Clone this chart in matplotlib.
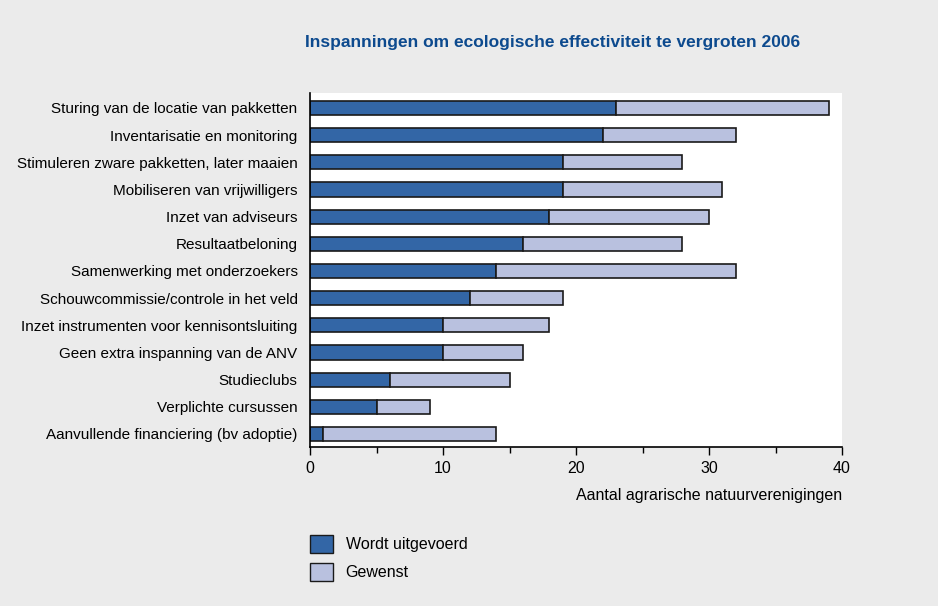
import numpy as np
import matplotlib.pyplot as plt
from matplotlib.patches import Patch

plt.rcParams['font.family'] = ['Liberation Sans Narrow', 'Liberation Sans', 'DejaVu Sans']

categories = [
    'Sturing van de locatie van pakketten',
    'Inventarisatie en monitoring',
    'Stimuleren zware pakketten, later maaien',
    'Mobiliseren van vrijwilligers',
    'Inzet van adviseurs',
    'Resultaatbeloning',
    'Samenwerking met onderzoekers',
    'Schouwcommissie/controle in het veld',
    'Inzet instrumenten voor kennisontsluiting',
    'Geen extra inspanning van de ANV',
    'Studieclubs',
    'Verplichte cursussen',
    'Aanvullende financiering (bv adoptie)',
]
uitgevoerd = [23, 22, 19, 19, 18, 16, 14, 12, 10, 10, 6, 5, 1]
totaal = [39, 32, 28, 31, 30, 28, 32, 19, 18, 16, 15, 9, 14]
gewenst = [t - u for t, u in zip(totaal, uitgevoerd)]

dark = '#3366a6'
light = '#b9c1df'
bg = '#ebebeb'

fig = plt.figure(figsize=(9.38, 6.06), dpi=100, facecolor=bg)
ax = fig.add_axes([310/938, 1-447/606, 532/938, 354/606])
ax.set_facecolor('white')

y = np.arange(len(categories))
ax.barh(y, uitgevoerd, height=0.52, color=dark, edgecolor='#1a1a1a', linewidth=1.2)
ax.barh(y, gewenst, left=uitgevoerd, height=0.52, color=light, edgecolor='#1a1a1a', linewidth=1.2)

ax.set_ylim(12.48, -0.55)
ax.set_xlim(0, 40)
ax.set_yticks(y)
ax.set_yticklabels(categories, fontsize=11)
ax.tick_params(axis='y', length=0, pad=9)
ax.set_xticks([0, 10, 20, 30, 40])
ax.set_xticks([5, 15, 25, 35], minor=True)
ax.tick_params(axis='x', which='major', length=6, width=1, labelsize=11.5, pad=4)
ax.tick_params(axis='x', which='minor', length=4, width=1)
for s in ['top', 'right']:
    ax.spines[s].set_visible(False)
ax.spines['left'].set_linewidth(1.2)
ax.spines['bottom'].set_linewidth(1.2)

ax.set_xlabel('Aantal agrarische natuurverenigingen', fontsize=11.5, loc='right', labelpad=9)

fig.text(553/938, 1-42/606, 'Inspanningen om ecologische effectiviteit te vergroten 2006',
         ha='center', va='center', fontsize=12.5, fontweight='bold', color='#0d4a8e')

handles = [Patch(facecolor=dark, edgecolor='#1a1a1a', label='Wordt uitgevoerd'),
           Patch(facecolor=light, edgecolor='#1a1a1a', label='Gewenst')]
fig.legend(handles=handles, loc='upper left', bbox_to_anchor=(296/938, 1-521/606),
           frameon=False, fontsize=11.5, handlelength=1.4, handleheight=1.3,
           labelspacing=0.65, handletextpad=0.8)

fig.savefig('out.png', dpi=100, facecolor=bg)
